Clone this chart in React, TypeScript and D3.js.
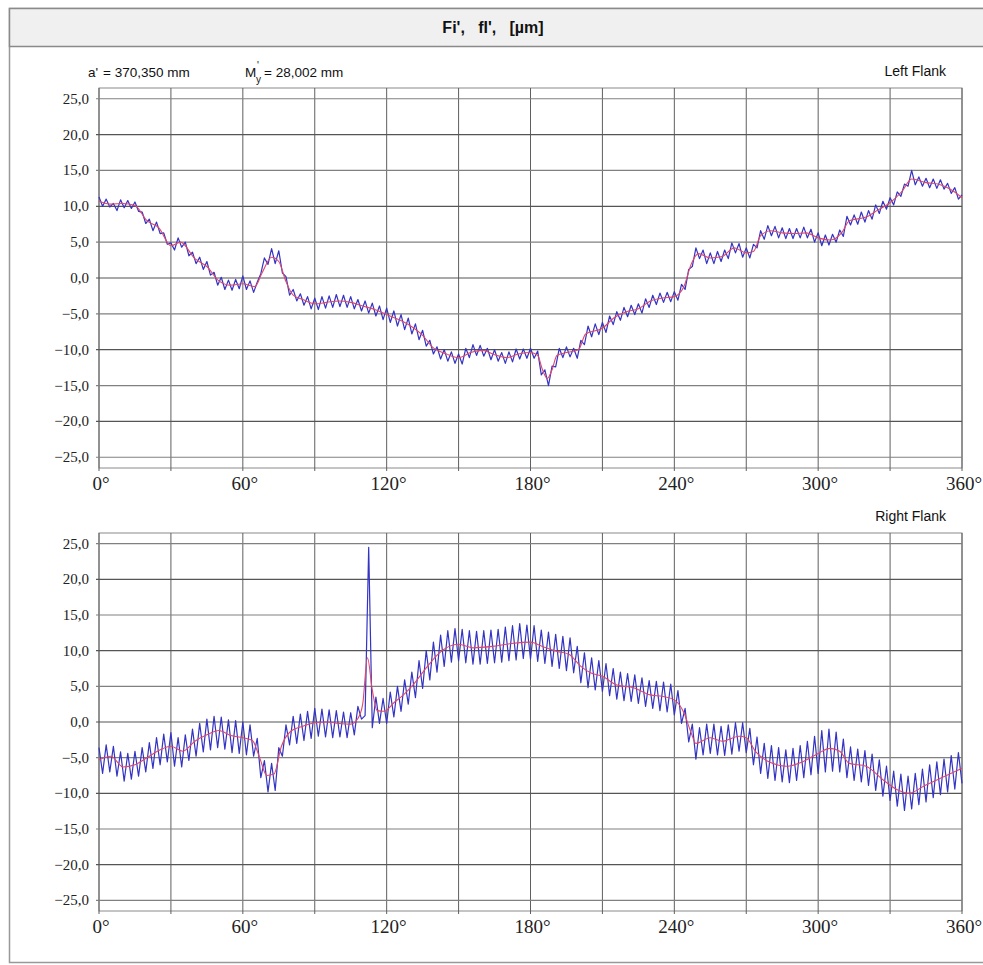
import React from "react";
import * as d3 from "d3";

// raw measurement, one sample every 1.5 degrees (0..360)
const RAW_STEP = 1.5;

const LEFT_RAW = [
  11.3, 10.0, 11.0, 9.9, 10.4, 9.4, 10.9, 9.8, 10.8, 9.7, 10.6, 9.3, 9.2, 7.6, 8.2, 6.6, 7.8, 6.2, 6.3, 4.7,
  4.9, 3.9, 5.6, 4.3, 5.0, 3.1, 3.6, 2.0, 2.9, 1.2, 2.3, 0.4, 0.8, -1.0, 0.1, -1.6, -0.3, -1.7, -0.2, -1.5,
  0.3, -1.6, -0.4, -2.0, -0.6, 0.6, 2.8, 1.9, 4.1, 2.0, 3.8, 0.7, 0.2, -2.4, -1.6, -3.2, -2.2, -3.8, -2.6, -4.3,
  -2.8, -4.4, -2.6, -4.2, -2.5, -4.1, -2.3, -4.0, -2.4, -4.1, -2.6, -4.3, -3.0, -4.6, -3.2, -4.9, -3.5, -5.3, -3.9, -5.8,
  -4.2, -6.2, -4.6, -6.7, -5.1, -7.2, -5.6, -7.8, -6.4, -8.6, -7.3, -9.5, -8.7, -10.6, -9.6, -11.3, -10.0, -11.6, -10.3, -11.9,
  -10.6, -12.0, -9.8, -11.1, -9.3, -10.8, -9.4, -10.9, -9.8, -11.4, -10.0, -11.6, -10.4, -11.9, -10.3, -11.7, -9.9, -11.3, -9.9, -11.2,
  -9.8, -11.2, -10.2, -13.5, -12.8, -15.0, -12.3, -12.4, -9.8, -11.1, -9.6, -11.0, -9.8, -11.2, -8.7, -9.3, -6.7, -8.2, -6.4, -7.9,
  -6.2, -7.6, -5.3, -6.5, -4.7, -5.9, -4.1, -5.4, -3.8, -5.1, -3.6, -4.9, -2.9, -4.1, -2.4, -3.7, -2.1, -3.4, -2.0, -3.3,
  -1.9, -3.1, -0.9, -1.6, 1.2, 1.6, 4.2, 2.7, 3.9, 2.0, 3.5, 2.0, 3.7, 2.3, 3.9, 2.7, 4.9, 3.5, 4.8, 2.9,
  4.2, 2.8, 4.7, 4.2, 6.6, 5.4, 7.3, 5.9, 7.2, 5.6, 7.0, 5.5, 6.9, 5.5, 6.9, 5.6, 7.1, 5.6, 6.8, 5.0,
  6.3, 4.5, 6.0, 4.6, 6.1, 5.0, 6.7, 5.8, 8.6, 7.4, 8.8, 7.5, 9.2, 7.8, 9.4, 8.2, 10.2, 9.0, 10.7, 9.6,
  11.2, 10.2, 12.0, 11.4, 13.1, 12.8, 15.0, 13.0, 14.1, 12.8, 13.9, 12.6, 13.8, 12.5, 13.7, 12.4, 13.2, 11.8, 12.6, 11.0,
  11.6,
];

const RIGHT_RAW = [
  -3.6, -7.2, -3.2, -7.0, -3.4, -7.6, -4.2, -8.3, -4.4, -8.0, -4.1, -7.6, -3.6, -7.0, -2.9, -6.5, -2.2, -6.0, -1.7, -5.6,
  -1.5, -6.2, -2.2, -6.3, -1.8, -5.4, -1.0, -4.8, -0.2, -4.2, 0.4, -3.9, 0.8, -3.6, 0.7, -3.8, 0.3, -4.3, 0.2, -4.4,
  0.0, -4.6, -0.4, -4.8, -2.3, -7.8, -5.4, -9.8, -5.8, -9.6, -3.6, -4.8, -0.4, -3.2, 0.8, -3.0, 1.1, -2.6, 1.5, -2.3,
  1.9, -2.0, 1.8, -2.1, 1.7, -2.2, 1.6, -2.1, 1.4, -2.2, 1.3, -1.8, 2.2, 0.4, 0.9, 24.5, -0.8, 3.5, -0.2, 3.3,
  -0.2, 4.2, 0.7, 5.0, 1.5, 5.9, 2.5, 7.0, 3.4, 8.6, 4.7, 10.0, 5.9, 11.2, 7.0, 12.2, 7.8, 12.8, 8.4, 13.1,
  8.6, 13.0, 8.3, 12.8, 8.1, 12.7, 8.1, 12.8, 8.2, 12.9, 8.3, 13.0, 8.4, 13.3, 8.6, 13.5, 8.7, 13.8, 8.9, 13.6,
  8.8, 13.5, 8.5, 12.9, 8.2, 12.6, 7.8, 12.3, 7.5, 12.0, 7.2, 11.8, 6.9, 10.6, 5.5, 9.7, 4.8, 9.0, 4.5, 8.6,
  4.3, 8.2, 3.7, 7.5, 3.2, 7.0, 3.0, 6.8, 2.9, 6.6, 2.6, 6.2, 2.2, 5.8, 1.9, 5.7, 1.6, 5.6, 1.4, 5.3,
  1.0, 4.4, -0.2, 1.9, -2.8, -0.3, -5.2, -0.8, -4.6, -0.3, -4.4, -0.3, -4.6, -0.6, -4.7, -0.4, -4.5, -0.1, -4.1, -0.1,
  -4.3, -0.9, -6.0, -2.1, -7.2, -3.0, -7.9, -3.3, -8.2, -3.6, -8.4, -3.9, -8.5, -3.7, -8.2, -3.3, -7.8, -2.7, -7.4, -2.0,
  -7.2, -1.2, -7.0, -1.0, -6.9, -1.4, -7.0, -2.4, -7.8, -3.5, -8.2, -3.8, -8.4, -4.0, -8.9, -4.5, -9.6, -5.3, -10.4, -6.2,
  -11.0, -6.9, -11.8, -7.3, -12.4, -7.6, -12.2, -7.2, -11.6, -6.6, -11.2, -6.0, -10.6, -5.6, -10.2, -5.2, -9.8, -4.7, -9.4, -4.3,
  -8.6,
];

// filtered curve: [angle in degrees, value in µm]
const LEFT_SMOOTH = [
  [0, 10.7], [5, 10.3], [10, 10.4], [15, 10.1], [20, 8.0], [25, 7.0], [30, 4.5], [34, 5.0], [40, 2.7], [45, 1.6],
  [50, -0.4], [55, -1.0], [60, -0.8], [65, -1.2], [68, 0.7], [72, 2.9], [75, 2.3], [78, -0.5], [81, -2.4], [85, -3.0],
  [90, -3.6], [95, -3.4], [100, -3.2], [105, -3.4], [110, -3.9], [115, -4.4], [120, -5.1], [125, -5.8], [130, -6.7], [135, -8.0],
  [139, -9.6], [145, -10.6], [150, -11.1], [155, -10.4], [160, -10.1], [165, -10.7], [170, -11.1], [175, -10.6], [180, -10.4], [183, -10.8],
  [185, -12.8], [187, -14.0], [189, -12.8], [191, -10.8], [195, -10.4], [200, -10.0], [203, -7.8], [210, -7.0], [215, -5.5], [220, -4.7],
  [225, -4.3], [230, -3.2], [235, -2.8], [240, -2.6], [244, -1.2], [247, 1.9], [250, 3.4], [255, 2.8], [260, 3.0], [265, 4.2],
  [270, 3.5], [273, 3.7], [276, 5.9], [280, 6.6], [285, 6.3], [290, 6.2], [295, 6.3], [300, 5.6], [305, 5.3], [310, 6.4],
  [313, 8.0], [320, 8.5], [325, 9.5], [330, 10.5], [335, 12.1], [339, 13.8], [345, 13.3], [350, 13.1], [355, 12.4], [360, 11.2],
];

const RIGHT_SMOOTH = [
  [0, -5.3], [5, -4.8], [10, -6.3], [15, -6.0], [20, -5.0], [25, -4.0], [30, -3.4], [35, -4.1], [40, -2.7], [45, -1.8],
  [50, -1.2], [55, -1.9], [60, -2.2], [64, -2.6], [67, -5.0], [70, -7.5], [73, -7.3], [76, -3.5], [80, -1.3], [85, -0.6],
  [90, -0.1], [95, 0.0], [100, -0.2], [105, -0.3], [108, 0.5], [110, 2.5], [112, 9.0], [114, 4.5], [116, 1.6], [119, 1.5],
  [123, 2.7], [127, 3.8], [131, 5.2], [137, 7.8], [142, 9.7], [150, 10.9], [156, 10.4], [164, 10.6], [172, 11.0], [180, 11.2],
  [185, 10.6], [191, 9.9], [196, 9.5], [201, 7.8], [205, 6.9], [210, 6.4], [216, 5.2], [223, 4.8], [230, 3.8], [235, 3.6],
  [240, 3.1], [244, 1.3], [247, -1.5], [249, -3.0], [255, -2.2], [260, -2.7], [267, -2.0], [270, -2.2], [274, -4.2], [279, -5.5],
  [287, -6.2], [294, -5.5], [300, -4.4], [305, -3.7], [309, -4.1], [313, -5.8], [320, -6.2], [327, -8.1], [333, -9.5], [338, -10.0],
  [344, -9.0], [351, -7.9], [360, -6.5],
];

const X_LABELS = [0, 60, 120, 180, 240, 300, 360];
const X_GRID = [0, 30, 60, 90, 120, 150, 180, 210, 240, 270, 300, 330, 360];
const Y_TICKS = [25, 20, 15, 10, 5, 0, -5, -10, -15, -20, -25];
const Y_DOMAIN = [-26.5, 26.5];

const fmtY = (v: number) => v.toFixed(1).replace(".", ",").replace("-", "\u2212");

const SERIF = "'Liberation Serif', 'Times New Roman', serif";
const SANS = "'Liberation Sans', Arial, sans-serif";

type PanelProps = {
  raw: number[];
  smooth: number[][];
  top: number;
  bottom: number;
  title: string;
};

const Panel = ({ raw, smooth, top, bottom, title }: PanelProps) => {
  const left = 99;
  const right = 962;
  const x = d3.scaleLinear().domain([0, 360]).range([left, right]);
  const y = d3.scaleLinear().domain(Y_DOMAIN).range([bottom, top]);

  const rawLine = d3
    .line<number>()
    .x((_, i) => x(i * RAW_STEP))
    .y((d) => y(d));
  const smoothLine = d3
    .line<number[]>()
    .x((d) => x(d[0]))
    .y((d) => y(d[1]))
    .curve(d3.curveMonotoneX);

  return (
    <g>
      <text x={946} y={top - 12} textAnchor="end" fontFamily={SANS} fontSize={14} fill="#111">
        {title}
      </text>
      <rect x={left} y={top} width={right - left} height={bottom - top} fill="#fff" stroke="#8a8a8a" />
      {X_GRID.map((d) => (
        <line key={"gx" + d} x1={x(d)} x2={x(d)} y1={top} y2={bottom + 3} stroke="#5f5f5f" strokeWidth={1} />
      ))}
      {Y_TICKS.map((d) => (
        <g key={"gy" + d}>
          <line x1={left - 3} x2={right} y1={y(d)} y2={y(d)} stroke={d % 10 === 0 ? "#555" : "#808080"} strokeWidth={1.2} />
          <text x={89} y={y(d) + 5} textAnchor="end" fontFamily={SERIF} fontSize={15} fill="#222">
            {fmtY(d)}
          </text>
        </g>
      ))}
      {X_LABELS.map((d) => (
        <text key={"xl" + d} x={x(d) + 2} y={bottom + 22} textAnchor="middle" fontFamily={SERIF} fontSize={19} fill="#222">
          {d + "\u00b0"}
        </text>
      ))}
      <path d={rawLine(raw) || ""} fill="none" stroke="#3333c4" strokeWidth={1.2} strokeLinejoin="round" />
      <path d={smoothLine(smooth) || ""} fill="none" stroke="#e0486a" strokeWidth={1.1} />
    </g>
  );
};

const App = () => {
  return (
    <svg
      width={983}
      height={965}
      viewBox="0 0 983 965"
      style={{ position: "absolute", left: 0, top: 0, display: "block", background: "#fff" }}
    >
      <rect x={0} y={0} width={983} height={965} fill="#fff" />
      <rect x={9.5} y={8.5} width={985} height={954} fill="#fff" stroke="#999" strokeWidth={1.5} />
      <rect x={9.5} y={8.5} width={985} height={38} fill="#f0f0f0" stroke="#8a8a8a" strokeWidth={1.5} />
      <text x={493} y={33} textAnchor="middle" fontFamily={SANS} fontWeight="bold" fontSize={16} fill="#111">
        Fi',&#160;&#160; fI',&#160;&#160; [µm]
      </text>

      <text x={88} y={77} fontFamily={SANS} fontSize={13.5} fill="#111">a'</text>
      <text x={103} y={77} fontFamily={SANS} fontSize={13.5} fill="#111">= 370,350 mm</text>
      <text x={245} y={77} fontFamily={SANS} fontSize={13.5} fill="#111">M</text>
      <text x={257} y={69} fontFamily={SANS} fontSize={10} fill="#111">'</text>
      <text x={256} y={83} fontFamily={SANS} fontSize={10} fill="#111">y</text>
      <text x={264} y={77} fontFamily={SANS} fontSize={13.5} fill="#111">= 28,002 mm</text>

      <Panel raw={LEFT_RAW} smooth={LEFT_SMOOTH} top={88} bottom={468} title="Left Flank" />
      <Panel raw={RIGHT_RAW} smooth={RIGHT_SMOOTH} top={533} bottom={911} title="Right Flank" />
    </svg>
  );
};

export default App;
